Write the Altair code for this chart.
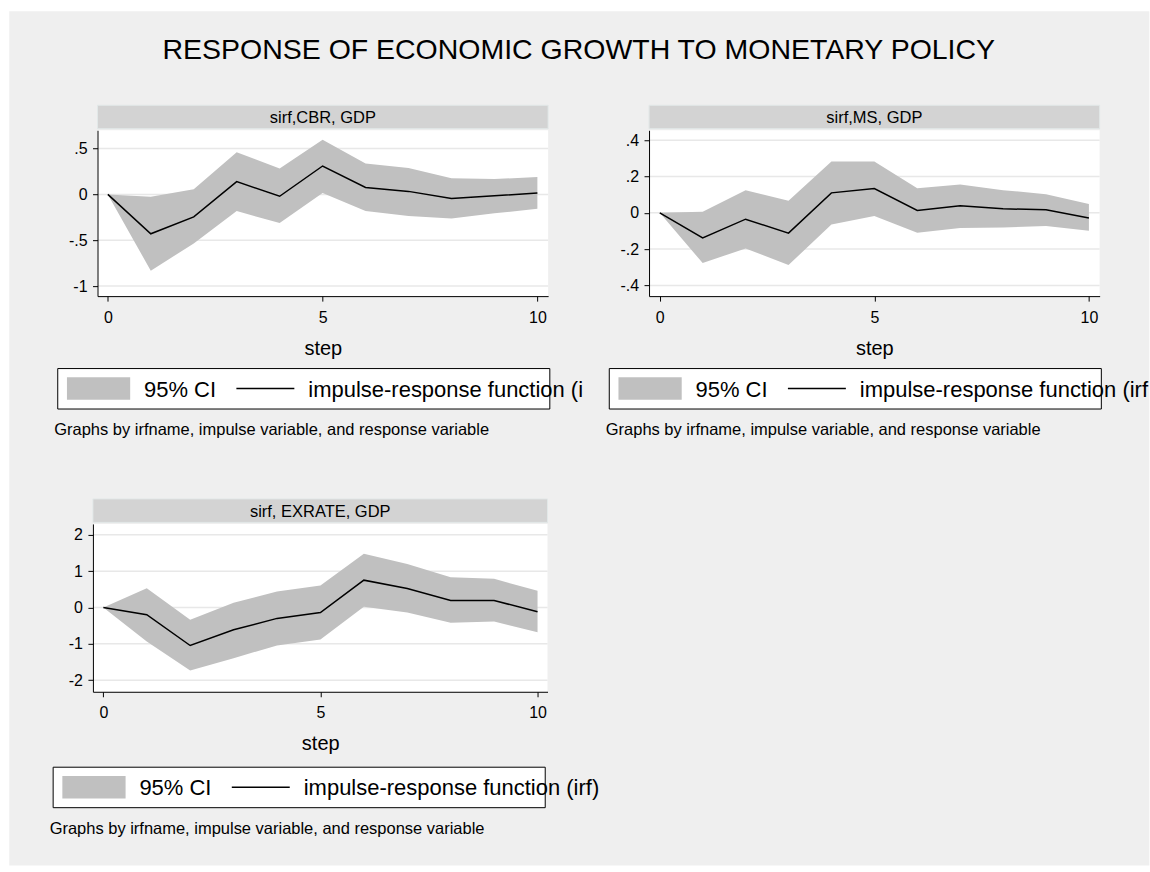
import altair as alt
import pandas as pd

FONT = "Liberation Sans"

steps = list(range(11))

# sirf, CBR -> GDP
cbr_irf = [0, -0.43, -0.245, 0.14, -0.02, 0.31, 0.076, 0.033, -0.044, -0.015, 0.015]
cbr_lo = [0, -0.833, -0.535, -0.182, -0.313, 0.015, -0.182, -0.236, -0.262, -0.207, -0.156]
cbr_hi = [0, -0.025, 0.055, 0.46, 0.284, 0.596, 0.338, 0.287, 0.175, 0.167, 0.189]

# sirf, MS -> GDP
ms_irf = [0, -0.138, -0.035, -0.112, 0.110, 0.134, 0.013, 0.039, 0.022, 0.017, -0.028]
ms_lo = [0, -0.277, -0.196, -0.288, -0.064, -0.018, -0.110, -0.083, -0.081, -0.073, -0.099]
ms_hi = [0, 0.006, 0.125, 0.066, 0.283, 0.283, 0.136, 0.156, 0.125, 0.103, 0.048]

# sirf, EXRATE -> GDP
ex_irf = [0, -0.20, -1.046, -0.615, -0.30, -0.138, 0.752, 0.523, 0.193, 0.193, -0.119]
ex_lo = [0, -0.936, -1.734, -1.394, -1.046, -0.881, 0.018, -0.138, -0.422, -0.385, -0.679]
ex_hi = [0, 0.532, -0.34, 0.128, 0.44, 0.606, 1.477, 1.20, 0.835, 0.789, 0.459]

x_ticks = [0, 5, 10]
cbr_ticks = [-1, -0.5, 0, 0.5]
ms_ticks = [-0.4, -0.2, 0, 0.2, 0.4]
ex_ticks = [-2, -1, 0, 1, 2]

main_title = "RESPONSE OF ECONOMIC GROWTH TO MONETARY POLICY"
ci_label = "95% CI"
irf_label = "impulse-response function (irf)"
note = "Graphs by irfname, impulse variable, and response variable"

PAGE_BG = "#EFEFEF"
BAND = "#C0C0C0"
STRIP = "#D3D3D3"
GRID = "#E8E8E8"

# Stata-style numbers: no leading zero, plain hyphen for negatives
stata_fmt = "(datum.value < 0 ? '-' : '') + replace(toString(abs(datum.value)), '0.', '.')"

one = pd.DataFrame({"k": [0]})


def px_rect(x, x2, y, y2, **kw):
    return alt.Chart(one).mark_rect(**kw).encode(
        x=alt.value(x), x2=alt.value(x2), y=alt.value(y), y2=alt.value(y2)
    )


def px_text(x, y, txt, size, align="left", **kw):
    return alt.Chart(one).mark_text(
        text=txt, font=FONT, fontSize=size, align=align, baseline="alphabetic",
        color="black", **kw
    ).encode(x=alt.value(x), y=alt.value(y))


def panel(strip, irf, lo, hi, xdom, ydom, yticks, w, h, dy=0.0, limit=None, extra=None):
    df = pd.DataFrame({"step": steps, "irf": irf, "lo": lo, "hi": hi})
    grid_df = pd.DataFrame({"v": yticks})
    xs = alt.Scale(domain=xdom, nice=False, zero=False)
    ys = alt.Scale(domain=ydom, nice=False, zero=False)
    xaxis = alt.Axis(
        values=x_ticks, title="step", titleFont=FONT, titleFontSize=20,
        titleFontWeight="normal", titleColor="black", titleX=w / 2, titleY=58,
        titleAlign="center", titleBaseline="alphabetic", labelPadding=8, zindex=1,
    )
    yaxis = alt.Axis(values=yticks, labelExpr=stata_fmt, title=None, labelPadding=5.5,
                     zindex=1)

    layers = list(extra or [])
    layers.append(px_rect(0, w, 0, h, fill="white"))
    layers.append(px_rect(0, w, -25, -1.5, fill=STRIP, stroke="#E2E8E8", strokeWidth=1))
    layers.append(px_text(w / 2, -7, strip, 16.5, align="center"))
    layers.append(
        alt.Chart(grid_df).mark_rule(color=GRID, strokeWidth=1.5).encode(
            y=alt.Y("v:Q", scale=ys, axis=yaxis), x=alt.value(0), x2=alt.value(w)
        )
    )
    layers.append(
        alt.Chart(df).mark_area(color=BAND, opacity=1).encode(
            x=alt.X("step:Q", scale=xs, axis=xaxis),
            y=alt.Y("lo:Q", scale=ys, axis=yaxis),
            y2="hi:Q",
        )
    )
    layers.append(
        alt.Chart(df).mark_line(color="black", strokeWidth=1.5).encode(
            x=alt.X("step:Q", scale=xs, axis=xaxis),
            y=alt.Y("irf:Q", scale=ys, axis=yaxis),
        )
    )
    # legend box
    layers.append(px_rect(-39.8, 452.7, 238.5 + dy, 279 + dy, fill="white", stroke="black", strokeWidth=1))
    layers.append(px_rect(-30.6, 32.7, 247.3 + dy, 269.7 + dy, fill=BAND))
    layers.append(px_text(46.5, 266.5 + dy, ci_label, 22))
    layers.append(
        alt.Chart(one).mark_rule(color="black", strokeWidth=1.5).encode(
            x=alt.value(139), x2=alt.value(197), y=alt.value(258.5 + dy)
        )
    )
    irf_kw = {}
    if limit is not None:
        # cut the label off at the edge of its graph region, no ellipsis glyph
        irf_kw = dict(limit=limit, ellipsis="\u200b")
    layers.append(px_text(211, 266.5 + dy, irf_label, 22, **irf_kw))
    layers.append(px_text(-43.3, 305 + dy, note, 16.5))
    return alt.layer(*layers).properties(width=w, height=h)


W1, H1 = 451, 166
W3, H3 = 455, 168

# page background and main title live in the first panel's layer stack
p1_extra = [
    px_rect(-88.3, 1052.7, -119, 736, fill=PAGE_BG),
]
p1 = panel("sirf,CBR, GDP", cbr_irf, cbr_lo, cbr_hi, [-0.24, 10.25], [-1.11, 0.70],
           cbr_ticks, W1, H1, limit=277, extra=p1_extra)
p1 = alt.layer(p1, px_text(481.7, -71, main_title, 28.5, align="center"))

p2 = panel("sirf,MS, GDP", ms_irf, ms_lo, ms_hi, [-0.25, 10.25], [-0.459, 0.455],
           ms_ticks, W1, H1, limit=289.5)
p3 = panel("sirf, EXRATE, GDP", ex_irf, ex_lo, ex_hi, [-0.24, 10.23], [-2.32, 2.30],
           ex_ticks, W3, H3, dy=5)

spacer = alt.Chart(one).mark_point(opacity=0).encode(
    x=alt.value(0), y=alt.value(0)
).properties(width=1, height=H1)

row1 = alt.hconcat(
    spacer,
    alt.hconcat(p1, p2, spacing=101, bounds="flush"),
    spacing=3.6, bounds="flush",
)

chart = alt.vconcat(row1, p3, spacing=394, bounds="flush").properties(
    padding={"left": 9, "top": 11, "right": 0, "bottom": 0},
    background="white",
).configure_view(
    stroke=None, fill=None
).configure_axis(
    domainColor="black", domainWidth=1, tickColor="black", tickSize=5, tickWidth=1,
    labelColor="black", labelFont=FONT, labelFontSize=16, grid=False,
)

chart.save("out.html", embed_options={"renderer": "svg", "actions": False})
